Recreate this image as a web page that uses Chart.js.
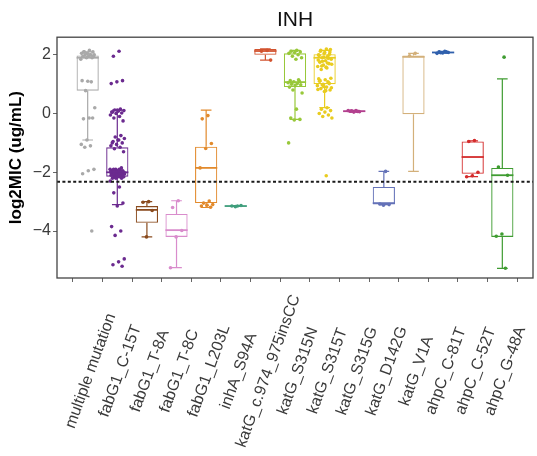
<!DOCTYPE html>
<html>
<head>
<meta charset="utf-8">
<script src="https://cdn.jsdelivr.net/npm/chart.js@4.4.1/dist/chart.umd.min.js"></script>
<style>
  html, body { margin: 0; padding: 0; background: #fff; }
</style>
</head>
<body>
<canvas id="myChart" width="537" height="456"></canvas>
<script>
const FONT = "'Liberation Sans', Arial, Helvetica, sans-serif";

const categories = ['multiple mutation', 'fabG1_C-15T', 'fabG1_T-8A', 'fabG1_T-8C', 'fabG1_L203L',
  'inhA_S94A', 'katG_c.974_975insCC', 'katG_S315N', 'katG_S315T', 'katG_S315G',
  'katG_D142G', 'katG_V1A', 'ahpC_C-81T', 'ahpC_C-52T', 'ahpC_G-48A'];

const colors = ['#a9a9a9', '#6b2a8f', '#8a4b1e', '#d98ccc', '#e28a2c',
  '#3f9e7c', '#d2532f', '#98c83a', '#e9cc1f', '#b3418f',
  '#6472b8', '#d3b07a', '#3060ad', '#d42b2b', '#3f9c31'];

// box summary: whisker ends, quartiles, median (log2 MIC)
const whiskerLow  = [-0.9, -3.1, -4.2, -5.25, -3.2, -3.16, 1.82, -0.2, 0.2, 0.05, -3.1, -1.97, 2.06, -2.15, -5.27];
const boxLow      = [0.78, -2.15, -3.72, -4.2, -3.05, -3.16, 2.0, 0.9, 1.0, 0.06, -3.1, -0.02, 2.07, -2.05, -4.2];
const boxMid      = [1.9, -2.0, -3.28, -3.97, -1.85, -3.15, 2.13, 1.07, 1.9, 0.08, -3.05, 1.93, 2.08, -1.48, -2.1];
const boxHigh     = [1.98, -1.15, -3.15, -3.42, -1.13, -3.14, 2.2, 2.05, 2.02, 0.1, -2.5, 1.98, 2.1, -0.95, -1.85];
const whiskerHigh = [2.1, 0.12, -3.0, -2.97, 0.12, -3.14, 2.2, 2.15, 2.15, 0.11, -1.97, 2.05, 2.12, -0.93, 1.18];

// individual isolates per group
const mic = [
  [2.15, 2.1, 2.1, 2.05, 2.05, 2.0, 2.0, 2.0, 1.95, 1.95, 1.9, 1.9, 1.85, 2.0, 2.1, 1.95, 1.1, 1.12, 1.08,
   0.78, 0.2, -0.15, -0.18, -0.15, -0.9, -1.05, -1.1, -1.15, -1.9, -1.95, -2.05, -4.0],
  [2.12, 1.95, 1.12, 1.08, 1.02, 0.15, 0.12, 0.1, 0.08, 0.05, 0.02, 0.0, -0.05, -0.1, -0.15, -0.25, 0.12, 0.05,
   -0.75, -0.8, -0.85, -0.9, -0.95, -1.0, -1.05, -1.1, -1.15, -1.2, -1.3, -0.9, -1.0,
   -1.85, -1.9, -1.9, -1.9, -1.9, -1.95, -1.95, -1.95, -1.95, -1.95, -2.0, -2.0, -2.0, -2.0, -2.0, -2.0, -2.0, -2.0,
   -2.05, -2.05, -2.05, -2.05, -2.05, -2.05, -2.1, -2.1, -2.1, -2.1, -2.1, -2.15, -2.15, -2.15, -2.15,
   -2.2, -2.2, -2.2, -2.3, -2.5, -2.7, -3.05, -3.15, -3.85, -4.0, -4.15, -4.95, -5.05, -5.15, -5.2],
  [-3.0, -3.02, -3.3, -4.2],
  [-2.97, -3.2, -3.98, -4.2, -5.25],
  [-0.07, -0.18, -1.02, -1.19, -1.85, -2.98, -3.05, -3.1, -3.12, -3.15, -3.19],
  [-3.15, -3.15, -3.13, -3.17],
  [2.15, 2.12, 1.82],
  [2.15, 2.12, 2.1, 2.08, 2.05, 2.0, 1.95, 1.9, 1.85, 1.12, 1.1, 1.08, 1.05, 1.02, 1.0, 0.98, 0.95, 0.9, 1.15,
   0.8, 0.7, 0.15, -0.15, -0.2, -0.22, -1.0],
  [2.2, 2.15, 2.1, 2.05, 2.0, 1.95, 1.9, 1.85, 1.8, 1.75, 1.7, 1.65, 1.6, 1.55, 1.5, 2.18, 2.08, 1.98, 1.88,
   1.78, 1.68, 1.58, 2.12, 2.02, 1.92, 1.82, 1.72, 1.62,
   1.2, 1.15, 1.1, 1.05, 1.0, 0.95, 0.9, 0.85, 0.8, 0.75, 1.18, 1.08, 0.98, 0.88, 0.78, 1.12, 1.02, 0.92, 0.82,
   0.2, 0.15, 0.1, 0.05, 0.0, -0.05, -0.1, -0.15, -2.12],
  [0.1, 0.08, 0.06, 0.05, 0.1, 0.07, 0.09],
  [-1.97, -3.08, -3.1, -3.12],
  [2.05, 1.97],
  [2.12, 2.1, 2.08, 2.06, 2.05, 2.1, 2.07],
  [-0.92, -0.95, -2.0, -2.12, -2.15],
  [1.92, -1.82, -2.1, -4.1, -4.18, -5.27]
];

const yTicks = [-4, -2, 0, 2];
const cutoff = -2.32;

// spread points sideways inside their group
function jitter(k) {
  return (((k + 1) * 0.618034) % 1 - 0.5) * 0.5;
}

const pointSets = mic.map((vals, i) => ({
  type: 'scatter',
  data: vals.map((v, k) => ({ x: i + jitter(k), y: v })),
  backgroundColor: colors[i],
  borderColor: colors[i],
  borderWidth: 0,
  pointRadius: 1.8,
  order: 0
}));

const boxSet = {
  type: 'bar',
  data: categories.map((c, i) => ({ x: i, y: [boxLow[i], boxHigh[i]] })),
  backgroundColor: 'rgba(0,0,0,0)',
  borderColor: colors,
  borderWidth: 1.1,
  borderSkipped: false,
  categoryPercentage: 1,
  barPercentage: 0.75,
  order: 1
};

// whiskers, caps and median lines
const boxParts = {
  id: 'boxParts',
  beforeDatasetsDraw(chart) {
    const { ctx, scales: { x, y } } = chart;
    const step = x.getPixelForValue(1) - x.getPixelForValue(0);
    ctx.save();
    categories.forEach((c, i) => {
      const cx = x.getPixelForValue(i);
      ctx.strokeStyle = colors[i];
      ctx.lineWidth = 1.2;
      ctx.beginPath();
      ctx.moveTo(cx, y.getPixelForValue(whiskerLow[i]));
      ctx.lineTo(cx, y.getPixelForValue(boxLow[i]));
      ctx.moveTo(cx, y.getPixelForValue(boxHigh[i]));
      ctx.lineTo(cx, y.getPixelForValue(whiskerHigh[i]));
      const cap = step * 0.18;
      [whiskerLow[i], whiskerHigh[i]].forEach(v => {
        const py = y.getPixelForValue(v);
        ctx.moveTo(cx - cap, py);
        ctx.lineTo(cx + cap, py);
      });
      ctx.stroke();
      ctx.lineWidth = 1.8;
      ctx.beginPath();
      const half = step * 0.375;
      const my = y.getPixelForValue(boxMid[i]);
      ctx.moveTo(cx - half, my);
      ctx.lineTo(cx + half, my);
      ctx.stroke();
    });
    ctx.restore();
  }
};

const cutoffLine = {
  id: 'cutoffLine',
  afterDatasetsDraw(chart) {
    const { ctx, chartArea, scales: { y } } = chart;
    const py = y.getPixelForValue(cutoff);
    ctx.save();
    ctx.strokeStyle = '#1a1a1a';
    ctx.lineWidth = 2;
    ctx.setLineDash([3, 2.4]);
    ctx.beginPath();
    ctx.moveTo(chartArea.left, py);
    ctx.lineTo(chartArea.right, py);
    ctx.stroke();
    ctx.restore();
  }
};

const frameAndLabels = {
  id: 'frameAndLabels',
  afterDraw(chart) {
    const { ctx, chartArea, scales: { x } } = chart;
    ctx.save();
    ctx.strokeStyle = '#444';
    ctx.lineWidth = 1.3;
    ctx.strokeRect(chartArea.left, chartArea.top, chartArea.right - chartArea.left, chartArea.bottom - chartArea.top);
    // slanted group names, centred under each tick
    ctx.fillStyle = '#3a3a3a';
    ctx.font = '16px ' + FONT;
    ctx.textAlign = 'center';
    ctx.textBaseline = 'middle';
    categories.forEach((c, i) => {
      ctx.save();
      ctx.translate(x.getPixelForValue(i) + 3, chartArea.bottom + 93);
      ctx.rotate(-70 * Math.PI / 180);
      ctx.fillText(c, 0, 0);
      ctx.restore();
    });
    ctx.restore();
  }
};

let myChart = document.getElementById('myChart').getContext('2d');
let newChart = new Chart(myChart, {
  data: { datasets: [...pointSets, boxSet] },
  plugins: [boxParts, cutoffLine, frameAndLabels],
  options: {
    responsive: false,
    animation: false,
    layout: { padding: { left: 0, right: 2, top: 0, bottom: 0 } },
    plugins: {
      legend: { display: false },
      tooltip: { enabled: false },
      title: {
        display: true,
        text: 'INH',
        fullSize: false,
        color: '#111',
        font: { family: FONT, size: 21, weight: 'normal' },
        padding: { top: 8, bottom: 4 }
      }
    },
    scales: {
      x: {
        type: 'linear',
        min: -0.5,
        max: 14.5,
        afterBuildTicks: scale => { scale.ticks = categories.map((c, i) => ({ value: i })); },
        afterFit: scale => { scale.height = 178; },
        ticks: { display: false },
        grid: { display: true, drawOnChartArea: false, drawTicks: true, tickLength: 4, color: '#666' },
        border: { display: false }
      },
      y: {
        min: -5.6,
        max: 2.6,
        afterBuildTicks: scale => { scale.ticks = yTicks.map(v => ({ value: v })); },
        afterFit: scale => { scale.width = 57; },
        ticks: {
          padding: 2,
          color: '#3a3a3a',
          font: { family: FONT, size: 16 },
          callback: v => (v < 0 ? '\u2212' + Math.abs(v) : String(v))
        },
        grid: { display: true, drawOnChartArea: false, drawTicks: true, tickLength: 4, color: '#666' },
        border: { display: false },
        title: {
          display: true,
          text: 'log2MIC (ug/mL)',
          color: '#000',
          font: { family: FONT, size: 17, weight: 'bold' },
          padding: { top: 6, bottom: 4 }
        }
      }
    }
  }
});
</script>
</body>
</html>
